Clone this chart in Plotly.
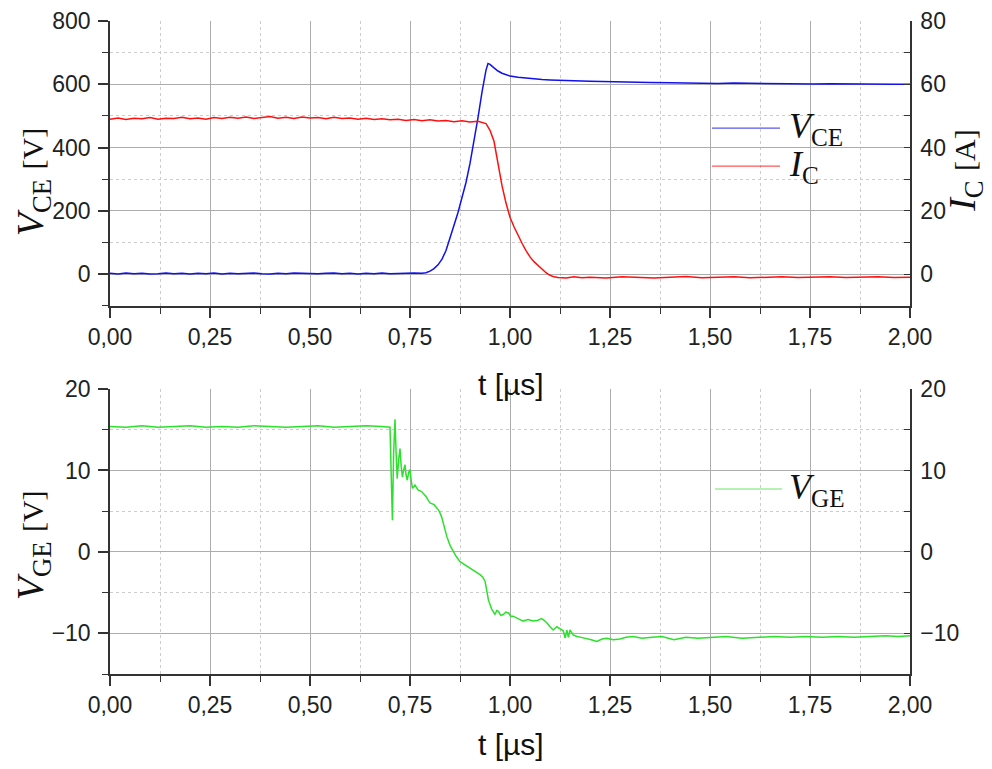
import plotly.graph_objects as go

# ---------------- data ----------------
# Top panel: collector-emitter voltage V_CE [V]
t_vce = [0.00, 0.02, 0.04, 0.06, 0.08, 0.10, 0.12, 0.14, 0.16, 0.18, 0.20, 0.22, 0.24, 0.26,
         0.28, 0.30, 0.32, 0.34, 0.36, 0.38, 0.40, 0.42, 0.44, 0.46, 0.48, 0.50, 0.52, 0.54,
         0.56, 0.58, 0.60, 0.62, 0.64, 0.66, 0.68, 0.70, 0.72, 0.74, 0.76, 0.78,
         0.79, 0.80, 0.81, 0.82, 0.83, 0.84, 0.85, 0.86, 0.87, 0.88, 0.89, 0.90, 0.91, 0.92,
         0.93, 0.94, 0.945, 0.95, 0.96, 0.97, 0.98, 0.99, 1.00, 1.02, 1.04, 1.06, 1.08, 1.10,
         1.13, 1.16, 1.20, 1.25, 1.30, 1.35, 1.40, 1.44, 1.48, 1.52, 1.56, 1.60, 1.64, 1.68,
         1.72, 1.76, 1.80, 1.84, 1.88, 1.92, 1.96, 2.00]
vce = [3, 1, 4, 2, 3, 1, 2, 4, 2, 3, 1, 3, 2, 4, 1, 3, 2, 3, 4, 2, 1, 3, 2, 4, 3, 1, 2, 3,
       4, 2, 3, 1, 3, 2, 4, 2, 3, 2, 4, 3,
       5, 10, 18, 30, 48, 75, 112, 155, 195, 240, 290, 350, 420, 495,
       575, 645, 666, 663, 652, 642, 635, 630, 626, 622, 619, 617, 615, 614,
       612, 611, 610, 608, 607, 606, 605, 604, 605, 603, 604, 603, 602, 603,
       602, 601, 602, 601, 600, 601, 600, 600]

# Top panel: collector current I_C [A]
t_ic = [0.00, 0.02, 0.04, 0.06, 0.08, 0.10, 0.12, 0.14, 0.16, 0.18, 0.20, 0.22, 0.24, 0.26,
        0.28, 0.30, 0.32, 0.34, 0.36, 0.38, 0.40, 0.42, 0.44, 0.46, 0.48, 0.50, 0.52, 0.54,
        0.56, 0.58, 0.60, 0.62, 0.64, 0.66, 0.68, 0.70, 0.72, 0.74, 0.76, 0.78, 0.80, 0.82,
        0.84, 0.86, 0.88, 0.90, 0.92, 0.94,
        0.95, 0.96, 0.97, 0.98, 0.99, 1.00, 1.01, 1.02, 1.03, 1.04, 1.05, 1.06, 1.07, 1.08,
        1.09, 1.10, 1.11, 1.12, 1.14, 1.16, 1.18, 1.20, 1.24, 1.28, 1.32, 1.36, 1.40, 1.44,
        1.48, 1.52, 1.56, 1.60, 1.64, 1.68, 1.72, 1.76, 1.80, 1.84, 1.88, 1.92, 1.96, 2.00]
ic = [49.0, 49.4, 48.9, 49.3, 49.1, 49.5, 49.0, 49.3, 49.2, 49.6, 49.1, 49.4, 49.0, 49.5,
      49.2, 49.6, 49.3, 49.7, 49.2, 49.5, 49.8, 49.3, 49.6, 49.2, 49.7, 49.4, 49.5, 49.1,
      49.6, 49.2, 49.4, 49.0, 49.3, 48.9, 49.1, 48.8, 49.0, 48.6, 48.9, 48.5, 48.8, 48.4,
      48.6, 48.2, 48.5, 48.1, 48.3, 47.6,
      45.5, 42.0, 35.0, 28.0, 22.5, 18.0, 15.0, 12.3, 9.8, 7.5, 5.5, 4.0, 2.8, 1.6,
      0.5, -0.3, -0.8, -1.0, -1.2, -0.8, -1.1, -0.9, -1.2, -0.8, -1.0, -1.2, -0.9, -0.7,
      -1.1, -0.9, -0.8, -1.1, -0.9, -0.8, -1.0, -0.9, -0.8, -1.0, -0.9, -0.8, -1.0, -0.9]

# Bottom panel: gate-emitter voltage V_GE [V]
t_vge = [0.00, 0.04, 0.08, 0.12, 0.16, 0.20, 0.24, 0.28, 0.32, 0.36, 0.40, 0.44, 0.48, 0.52,
         0.56, 0.60, 0.64, 0.68, 0.700, 0.703, 0.706, 0.709, 0.7125, 0.715, 0.718, 0.722,
         0.725, 0.728, 0.731, 0.734, 0.7375, 0.740, 0.743, 0.747, 0.750, 0.753, 0.756,
         0.7625, 0.770, 0.779, 0.790, 0.800, 0.810, 0.817, 0.823, 0.829, 0.835, 0.842,
         0.850, 0.858, 0.866, 0.875, 0.888, 0.900, 0.913, 0.925, 0.932, 0.9375, 0.941,
         0.946, 0.954, 0.9625, 0.967, 0.971, 0.977, 0.983, 0.990, 0.996, 1.002, 1.008,
         1.020, 1.033, 1.045, 1.058, 1.070, 1.079, 1.085, 1.092, 1.100, 1.108, 1.117,
         1.125, 1.133, 1.138, 1.142, 1.146, 1.150, 1.158, 1.167, 1.178, 1.190, 1.203,
         1.217, 1.230, 1.242, 1.258, 1.275, 1.290, 1.308, 1.330, 1.355, 1.380, 1.410,
         1.440, 1.470, 1.500, 1.540, 1.580, 1.620, 1.660, 1.700, 1.740, 1.780, 1.820,
         1.860, 1.900, 1.940, 1.970, 2.000]
vge = [15.4, 15.3, 15.5, 15.3, 15.4, 15.5, 15.3, 15.4, 15.3, 15.5, 15.4, 15.3, 15.4, 15.5,
       15.3, 15.4, 15.5, 15.4, 15.3, 9.5, 3.9, 12.0, 16.3, 12.5, 9.0, 11.5,
       12.7, 10.5, 9.2, 10.0, 10.7, 9.5, 8.8, 9.8, 10.1, 8.8, 7.8,
       8.2, 7.6, 7.4, 6.8, 6.0, 5.8, 5.4, 5.0, 4.3, 3.2, 1.9,
       0.8, 0.0, -0.6, -1.2, -1.6, -2.0, -2.4, -2.8, -3.1, -3.6, -4.5,
       -5.9, -7.0, -7.7, -7.2, -7.3, -7.8, -7.7, -7.4, -7.5, -7.9, -7.9,
       -8.2, -8.5, -8.3, -8.5, -8.4, -8.2, -8.4, -8.7, -9.2, -9.6, -9.2,
       -9.4, -9.7, -10.6, -9.6, -10.5, -9.6, -10.2, -10.4, -10.5, -10.6, -10.8,
       -11.0, -10.7, -10.6, -10.8, -10.7, -10.5, -10.4, -10.6, -10.5, -10.4, -10.8,
       -10.5, -10.6, -10.5, -10.4, -10.6, -10.5, -10.4, -10.5, -10.4, -10.5, -10.4,
       -10.5, -10.4, -10.3, -10.4, -10.3]

# axis settings
x_range = [0, 2]
x_dtick = 0.25
vce_range = [-100, 800]
ic_range = [-10, 80]
vge_range = [-15, 20]

# ---------------- styling ----------------
BLUE = "#1010f0"
RED = "#ff1010"
GREEN = "#2ee02e"
AX = "#333333"
GRID = "#adadad"
MINOR = "#cccccc"
TICKFONT = dict(family="Liberation Sans, Arial, sans-serif", size=23, color="#222222")
SERIF = "Liberation Serif, Times New Roman, serif"

fig = go.Figure()
fig.add_trace(go.Scatter(x=t_vce, y=vce, mode="lines", line=dict(color=BLUE, width=1.5),
                         xaxis="x", yaxis="y", showlegend=False, name="V_CE"))
fig.add_trace(go.Scatter(x=t_ic, y=ic, mode="lines", line=dict(color=RED, width=1.5),
                         xaxis="x", yaxis="y3", showlegend=False, name="I_C"))
fig.add_trace(go.Scatter(x=t_vge, y=vge, mode="lines", line=dict(color=GREEN, width=1.5),
                         xaxis="x2", yaxis="y2", showlegend=False, name="V_GE"))
fig.add_trace(go.Scatter(x=[None], y=[None], mode="lines", xaxis="x2", yaxis="y4",
                         showlegend=False, hoverinfo="skip"))


def xax(anchor):
    return dict(anchor=anchor, domain=[0, 1], range=x_range, dtick=x_dtick, tick0=0,
                tickformat=".2f", ticks="outside", ticklen=10, tickwidth=1.5, tickcolor=AX,
                showline=True, linecolor=AX, linewidth=1.5, showgrid=True, gridcolor=GRID,
                gridwidth=1, zeroline=False, tickfont=TICKFONT, ticklabelstandoff=0,
                automargin=False,
                minor=dict(dtick=x_dtick / 2, ticks="outside", ticklen=6, tickwidth=1.2,
                           tickcolor=AX, showgrid=True, griddash="dot", gridcolor=MINOR,
                           gridwidth=1))


def yleft(domain, rng, dtick, anchor):
    return dict(anchor=anchor, domain=domain, range=rng,
                dtick=dtick, tick0=0, ticks="outside", ticklen=10, tickwidth=1.5,
                tickcolor=AX, showline=True, linecolor=AX, linewidth=1.5, showgrid=True,
                gridcolor=GRID, gridwidth=1, zeroline=False, tickfont=TICKFONT,
                ticklabelstandoff=3, automargin=False,
                minor=dict(dtick=dtick / 2, ticks="outside", ticklen=6, tickwidth=1.2,
                           tickcolor=AX, showgrid=True, griddash="dot", gridcolor=MINOR,
                           gridwidth=1))


def yright(over, anchor, rng, dtick):
    return dict(overlaying=over, anchor=anchor, side="right", range=rng, dtick=dtick,
                tick0=0, ticks="inside", ticklen=6, tickwidth=1.2, tickcolor=AX,
                showline=True, linecolor=AX, linewidth=1.5, showgrid=False, zeroline=False,
                tickfont=TICKFONT, ticklabelstandoff=4, automargin=False,
                minor=dict(dtick=dtick / 2, ticks="inside", ticklen=6, tickwidth=1.2,
                           tickcolor=AX, showgrid=False))


TOP = [0.5636, 1.0]
BOT = [0.0, 0.4364]

# the page adds an 8px body margin, so the figure is sized 8px smaller
fig.update_layout(
    width=984, height=761,
    margin=dict(l=102, r=82, t=13, b=95),
    paper_bgcolor="white", plot_bgcolor="white",
    separators=",.",
    xaxis=xax("y"),
    xaxis2=xax("y2"),
    yaxis=yleft(TOP, vce_range, 200, "x"),
    yaxis2=yleft(BOT, vge_range, 10, "x2"),
    yaxis3=yright("y", "x", ic_range, 20),
    yaxis4=yright("y2", "x2", vge_range, 10),
)


# axis titles
def title(text, x, y, angle=0, size=30):
    fig.add_annotation(text=text, xref="paper", yref="paper", x=x, y=y, showarrow=False,
                       textangle=angle, xanchor="center", yanchor="middle", borderpad=0,
                       font=dict(family=SERIF, size=size, color="#111111"))


title("<i>V</i><sub>CE</sub> <span style='font-size:30px'>[V]</span>", -0.096, 0.7534, -90, 38)
title("<i>I</i><sub>C</sub> <span style='font-size:30px'>[A]</span>", 1.0685, 0.7718, -90, 38)
title("<i>V</i><sub>GE</sub> <span style='font-size:30px'>[V]</span>", -0.096, 0.1975, -90, 38)
for yy in (0.4426, -0.1087):
    fig.add_annotation(text="t [µs]", xref="paper", yref="paper", x=0.501, y=yy,
                       showarrow=False, xanchor="center", yanchor="middle",
                       font=dict(family="Liberation Sans, Arial, sans-serif", size=30,
                                 color="#111111"))

# legend samples
legend_items = [
    (BLUE, 0.7525, 0.8375, 0.8361, "<i>V</i><sub>CE</sub>"),
    (RED, 0.7525, 0.8375, 0.7779, "<i>I</i><sub>C</sub>"),
    (GREEN, 0.75625, 0.84, 0.2833, "<i>V</i><sub>GE</sub>"),
]
for col, x0, x1, yy, lab in legend_items:
    fig.add_shape(type="line", xref="paper", yref="paper", x0=x0, x1=x1, y0=yy, y1=yy,
                  line=dict(color=col, width=1.2), opacity=0.7)
    fig.add_annotation(text=lab, xref="paper", yref="paper", x=0.846, y=yy, showarrow=False,
                       xanchor="left", yanchor="middle",
                       font=dict(family=SERIF, size=36, color="#111111"))

fig.write_html("out.html")
